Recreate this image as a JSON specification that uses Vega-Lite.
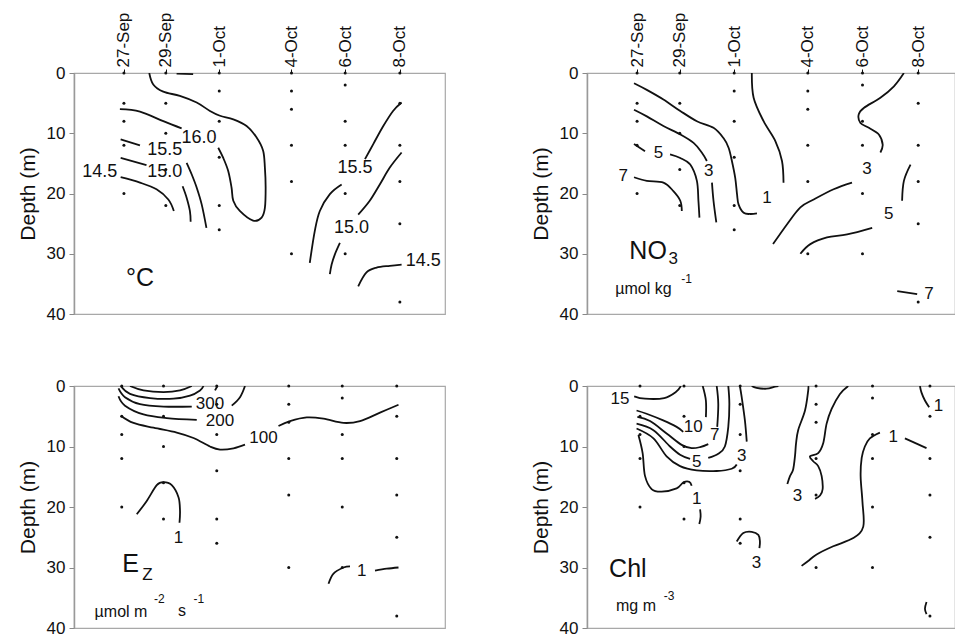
{
"$schema":"https://vega.github.io/schema/vega-lite/v6.json",
"background":"white",
"padding":{"left":16,"top":11,"right":0,"bottom":0},
"bounds":"flush",
"columns":2,
"spacing":{"row":72,"column":142},
"config":{"view":{"stroke":"#a8a8a8","strokeWidth":1.2},"font":"Liberation Sans","text":{"font":"Liberation Sans","color":"#111"}},
"datasets":{
"dots":[
{"d":0,"z":0},{"d":0,"z":5},{"d":0,"z":8},{"d":0,"z":12},{"d":0,"z":20},
{"d":1.67,"z":0},{"d":1.67,"z":5},{"d":1.67,"z":10},{"d":1.67,"z":16},{"d":1.67,"z":22},
{"d":3.8,"z":0},{"d":3.8,"z":3},{"d":3.8,"z":8},{"d":3.8,"z":14},{"d":3.8,"z":22},{"d":3.8,"z":26},
{"d":6.68,"z":0},{"d":6.68,"z":3},{"d":6.68,"z":6},{"d":6.68,"z":12},{"d":6.68,"z":18},{"d":6.68,"z":30},
{"d":8.82,"z":0},{"d":8.82,"z":2},{"d":8.82,"z":8},{"d":8.82,"z":12},{"d":8.82,"z":20},{"d":8.82,"z":30},
{"d":11,"z":0},{"d":11,"z":5},{"d":11,"z":12},{"d":11,"z":18},{"d":11,"z":25},{"d":11,"z":38}
],
"lines":[
{"p":1,"s":"a","i":0,"d":-0.16,"z":6.0},{"p":1,"s":"a","i":1,"d":0.64,"z":6.4},{"p":1,"s":"a","i":2,"d":1.57,"z":8.0},{"p":1,"s":"a","i":3,"d":2.30,"z":9.2},
{"p":1,"s":"b","i":0,"d":3.76,"z":12.4},{"p":1,"s":"b","i":1,"d":3.96,"z":14.1},{"p":1,"s":"b","i":2,"d":4.16,"z":16.3},{"p":1,"s":"b","i":3,"d":4.29,"z":19.0},{"p":1,"s":"b","i":4,"d":4.36,"z":21.2},{"p":1,"s":"b","i":5,"d":4.62,"z":22.9},{"p":1,"s":"b","i":6,"d":5.15,"z":24.5},{"p":1,"s":"b","i":7,"d":5.49,"z":24.0},{"p":1,"s":"b","i":8,"d":5.62,"z":22.4},{"p":1,"s":"b","i":9,"d":5.65,"z":19.0},{"p":1,"s":"b","i":10,"d":5.62,"z":15.7},{"p":1,"s":"b","i":11,"d":5.55,"z":12.9},{"p":1,"s":"b","i":12,"d":5.29,"z":10.7},{"p":1,"s":"b","i":13,"d":4.89,"z":8.8},{"p":1,"s":"b","i":14,"d":4.36,"z":7.7},{"p":1,"s":"b","i":15,"d":3.83,"z":7.1},{"p":1,"s":"b","i":16,"d":3.43,"z":6.3},{"p":1,"s":"b","i":17,"d":2.90,"z":4.9},{"p":1,"s":"b","i":18,"d":2.23,"z":3.8},{"p":1,"s":"b","i":19,"d":1.57,"z":3.1},{"p":1,"s":"b","i":20,"d":1.17,"z":1.9},{"p":1,"s":"b","i":21,"d":1.01,"z":0},
{"p":1,"s":"c","i":0,"d":2.10,"z":0.1},{"p":1,"s":"c","i":1,"d":2.76,"z":0.2},
{"p":1,"s":"d","i":0,"d":-0.13,"z":11.0},{"p":1,"s":"d","i":1,"d":0.64,"z":12.0},
{"p":1,"s":"e","i":0,"d":2.50,"z":14.9},{"p":1,"s":"e","i":1,"d":2.70,"z":16.8},{"p":1,"s":"e","i":2,"d":2.90,"z":19.0},{"p":1,"s":"e","i":3,"d":3.10,"z":21.8},{"p":1,"s":"e","i":4,"d":3.29,"z":25.7},
{"p":1,"s":"f","i":0,"d":-0.13,"z":14.1},{"p":1,"s":"f","i":1,"d":0.90,"z":15.3},
{"p":1,"s":"g","i":0,"d":2.34,"z":18.8},{"p":1,"s":"g","i":1,"d":2.50,"z":20.7},{"p":1,"s":"g","i":2,"d":2.63,"z":22.9},{"p":1,"s":"g","i":3,"d":2.66,"z":24.7},
{"p":1,"s":"h","i":0,"d":-0.13,"z":17.3},{"p":1,"s":"h","i":1,"d":0.64,"z":18.2},{"p":1,"s":"h","i":2,"d":1.30,"z":19.3},{"p":1,"s":"h","i":3,"d":1.77,"z":21.0},{"p":1,"s":"h","i":4,"d":1.99,"z":22.9},
{"p":1,"s":"i","i":0,"d":11.07,"z":4.9},{"p":1,"s":"i","i":1,"d":10.73,"z":6.3},{"p":1,"s":"i","i":2,"d":10.34,"z":8.8},{"p":1,"s":"i","i":3,"d":9.94,"z":11.8},{"p":1,"s":"i","i":4,"d":9.61,"z":14.3},
{"p":1,"s":"j","i":0,"d":8.68,"z":18.5},{"p":1,"s":"j","i":1,"d":8.21,"z":20.1},{"p":1,"s":"j","i":2,"d":7.81,"z":22.9},{"p":1,"s":"j","i":3,"d":7.61,"z":26.2},{"p":1,"s":"j","i":4,"d":7.41,"z":31.5},
{"p":1,"s":"k","i":0,"d":11.07,"z":13.2},{"p":1,"s":"k","i":1,"d":10.60,"z":15.7},{"p":1,"s":"k","i":2,"d":10.20,"z":18.5},{"p":1,"s":"k","i":3,"d":9.80,"z":21.2},{"p":1,"s":"k","i":4,"d":9.34,"z":23.5},
{"p":1,"s":"l","i":0,"d":8.61,"z":28.2},{"p":1,"s":"l","i":1,"d":8.41,"z":30.1},{"p":1,"s":"l","i":2,"d":8.28,"z":31.8},{"p":1,"s":"l","i":3,"d":8.21,"z":33.4},
{"p":1,"s":"m","i":0,"d":11.07,"z":31.8},{"p":1,"s":"m","i":1,"d":10.60,"z":32.0},{"p":1,"s":"m","i":2,"d":10.07,"z":32.3},{"p":1,"s":"m","i":3,"d":9.67,"z":33.1},{"p":1,"s":"m","i":4,"d":9.34,"z":35.4},

{"p":2,"s":"a","i":0,"d":-0.12,"z":17.3},{"p":2,"s":"a","i":1,"d":0.38,"z":17.9},{"p":2,"s":"a","i":2,"d":1.03,"z":18.2},{"p":2,"s":"a","i":3,"d":1.42,"z":19.6},{"p":2,"s":"a","i":4,"d":1.69,"z":21.2},{"p":2,"s":"a","i":5,"d":1.75,"z":22.9},
{"p":2,"s":"b","i":0,"d":-0.12,"z":11.8},{"p":2,"s":"b","i":1,"d":0.31,"z":13.0},
{"p":2,"s":"c","i":0,"d":1.29,"z":13.5},{"p":2,"s":"c","i":1,"d":1.69,"z":14.1},{"p":2,"s":"c","i":2,"d":2.08,"z":15.2},{"p":2,"s":"c","i":3,"d":2.34,"z":17.9},{"p":2,"s":"c","i":4,"d":2.40,"z":21.2},{"p":2,"s":"c","i":5,"d":2.44,"z":24.0},
{"p":2,"s":"d","i":0,"d":-0.12,"z":6.1},{"p":2,"s":"d","i":1,"d":0.38,"z":7.2},{"p":2,"s":"d","i":2,"d":1.03,"z":8.8},{"p":2,"s":"d","i":3,"d":1.69,"z":10.2},{"p":2,"s":"d","i":4,"d":2.21,"z":11.6},{"p":2,"s":"d","i":5,"d":2.53,"z":13.2},{"p":2,"s":"d","i":6,"d":2.73,"z":14.6},
{"p":2,"s":"e","i":0,"d":2.93,"z":18.2},{"p":2,"s":"e","i":1,"d":2.99,"z":21.2},{"p":2,"s":"e","i":2,"d":3.10,"z":24.8},
{"p":2,"s":"f","i":0,"d":-0.12,"z":1.7},{"p":2,"s":"f","i":1,"d":0.38,"z":2.8},{"p":2,"s":"f","i":2,"d":1.03,"z":4.4},{"p":2,"s":"f","i":3,"d":1.69,"z":6.3},{"p":2,"s":"f","i":4,"d":2.34,"z":8.0},{"p":2,"s":"f","i":5,"d":2.99,"z":9.1},{"p":2,"s":"f","i":6,"d":3.38,"z":10.8},{"p":2,"s":"f","i":7,"d":3.58,"z":12.4},{"p":2,"s":"f","i":8,"d":3.71,"z":14.6},{"p":2,"s":"f","i":9,"d":3.84,"z":17.4},{"p":2,"s":"f","i":10,"d":3.91,"z":20.1},{"p":2,"s":"f","i":11,"d":3.97,"z":21.8},{"p":2,"s":"f","i":12,"d":4.17,"z":23.2},{"p":2,"s":"f","i":13,"d":4.43,"z":23.4},{"p":2,"s":"f","i":14,"d":4.69,"z":23.3},
{"p":2,"s":"g","i":0,"d":4.49,"z":0},{"p":2,"s":"g","i":1,"d":4.56,"z":4.1},{"p":2,"s":"g","i":2,"d":4.95,"z":8.0},{"p":2,"s":"g","i":3,"d":5.41,"z":11.3},{"p":2,"s":"g","i":4,"d":5.67,"z":14.6},{"p":2,"s":"g","i":5,"d":5.73,"z":18.2},
{"p":2,"s":"h","i":0,"d":8.41,"z":18.2},{"p":2,"s":"h","i":1,"d":7.69,"z":19.3},{"p":2,"s":"h","i":2,"d":6.91,"z":21.0},{"p":2,"s":"h","i":3,"d":6.39,"z":22.3},{"p":2,"s":"h","i":4,"d":5.87,"z":25.1},{"p":2,"s":"h","i":5,"d":5.32,"z":28.4},
{"p":2,"s":"i","i":0,"d":10.44,"z":0},{"p":2,"s":"i","i":1,"d":10.05,"z":2.2},{"p":2,"s":"i","i":2,"d":9.52,"z":4.1},{"p":2,"s":"i","i":3,"d":8.87,"z":5.8},{"p":2,"s":"i","i":4,"d":8.67,"z":6.9},{"p":2,"s":"i","i":5,"d":8.74,"z":8.3},{"p":2,"s":"i","i":6,"d":9.07,"z":9.1},{"p":2,"s":"i","i":7,"d":9.46,"z":10.2},{"p":2,"s":"i","i":8,"d":9.61,"z":11.9},{"p":2,"s":"i","i":9,"d":9.52,"z":13.2},
{"p":2,"s":"j","i":0,"d":9.20,"z":25.7},{"p":2,"s":"j","i":1,"d":8.22,"z":26.8},{"p":2,"s":"j","i":2,"d":7.43,"z":27.3},{"p":2,"s":"j","i":3,"d":6.78,"z":28.4},{"p":2,"s":"j","i":4,"d":6.39,"z":30.0},
{"p":2,"s":"k","i":0,"d":10.70,"z":15.2},{"p":2,"s":"k","i":1,"d":10.44,"z":17.9},{"p":2,"s":"k","i":2,"d":10.37,"z":21.2},
{"p":2,"s":"l","i":0,"d":10.18,"z":36.2},{"p":2,"s":"l","i":1,"d":10.96,"z":36.7},

{"p":3,"s":"a","i":0,"d":0.33,"z":0},{"p":3,"s":"a","i":1,"d":0.87,"z":0.73},{"p":3,"s":"a","i":2,"d":1.67,"z":1.0},{"p":3,"s":"a","i":3,"d":2.33,"z":0.73},{"p":3,"s":"a","i":4,"d":2.8,"z":0},
{"p":3,"s":"b","i":0,"d":-0.04,"z":0},{"p":3,"s":"b","i":1,"d":0.33,"z":1.3},{"p":3,"s":"b","i":2,"d":1.13,"z":2.0},{"p":3,"s":"b","i":3,"d":2.07,"z":2.1},{"p":3,"s":"b","i":4,"d":2.73,"z":1.6},{"p":3,"s":"b","i":5,"d":3.13,"z":0.73},{"p":3,"s":"b","i":6,"d":3.27,"z":0},
{"p":3,"s":"c","i":0,"d":-0.13,"z":0.4},{"p":3,"s":"c","i":1,"d":0.13,"z":1.85},{"p":3,"s":"c","i":2,"d":0.73,"z":3.0},{"p":3,"s":"c","i":3,"d":1.67,"z":3.4},{"p":3,"s":"c","i":4,"d":2.8,"z":3.4},
{"p":3,"s":"d","i":0,"d":4.4,"z":3.25},{"p":3,"s":"d","i":1,"d":4.73,"z":1.85},{"p":3,"s":"d","i":2,"d":4.93,"z":0},
{"p":3,"s":"e","i":0,"d":-0.13,"z":1.7},{"p":3,"s":"e","i":1,"d":0.13,"z":3.25},{"p":3,"s":"e","i":2,"d":0.87,"z":4.7},{"p":3,"s":"e","i":3,"d":1.8,"z":5.3},{"p":3,"s":"e","i":4,"d":3.0,"z":5.6},
{"p":3,"s":"f","i":0,"d":-0.04,"z":4.9},{"p":3,"s":"f","i":1,"d":0.47,"z":6.1},{"p":3,"s":"f","i":2,"d":1.27,"z":6.9},{"p":3,"s":"f","i":3,"d":2.2,"z":7.7},{"p":3,"s":"f","i":4,"d":2.87,"z":8.6},{"p":3,"s":"f","i":5,"d":3.53,"z":10.0},{"p":3,"s":"f","i":6,"d":3.93,"z":10.5},{"p":3,"s":"f","i":7,"d":4.47,"z":10.3},{"p":3,"s":"f","i":8,"d":4.93,"z":9.7},
{"p":3,"s":"g","i":0,"d":6.27,"z":6.6},{"p":3,"s":"g","i":1,"d":6.73,"z":5.8},{"p":3,"s":"g","i":2,"d":7.4,"z":5.2},{"p":3,"s":"g","i":3,"d":8.07,"z":5.4},{"p":3,"s":"g","i":4,"d":8.87,"z":6.1},{"p":3,"s":"g","i":5,"d":9.53,"z":5.8},{"p":3,"s":"g","i":6,"d":10.33,"z":4.4},{"p":3,"s":"g","i":7,"d":11.07,"z":3.1},
{"p":3,"s":"h","i":0,"d":3.73,"z":0.73},{"p":3,"s":"h","i":1,"d":3.83,"z":0},
{"p":3,"s":"i","i":0,"d":0.6,"z":21.2},{"p":3,"s":"i","i":1,"d":1.0,"z":19.0},{"p":3,"s":"i","i":2,"d":1.4,"z":16.4},{"p":3,"s":"i","i":3,"d":1.67,"z":15.9},{"p":3,"s":"i","i":4,"d":2.0,"z":16.4},{"p":3,"s":"i","i":5,"d":2.27,"z":18.4},{"p":3,"s":"i","i":6,"d":2.33,"z":20.6},{"p":3,"s":"i","i":7,"d":2.31,"z":22.6},
{"p":3,"s":"j","i":0,"d":8.27,"z":32.7},{"p":3,"s":"j","i":1,"d":8.47,"z":31.0},{"p":3,"s":"j","i":2,"d":8.87,"z":30.0},{"p":3,"s":"j","i":3,"d":9.13,"z":29.8},
{"p":3,"s":"k","i":0,"d":10.13,"z":30.5},{"p":3,"s":"k","i":1,"d":10.6,"z":30.2},{"p":3,"s":"k","i":2,"d":11.07,"z":30.0},

{"p":4,"s":"a","i":0,"d":-0.22,"z":1.7},{"p":4,"s":"a","i":1,"d":0.19,"z":2.1},{"p":4,"s":"a","i":2,"d":0.92,"z":2.0},{"p":4,"s":"a","i":3,"d":1.36,"z":1.0},{"p":4,"s":"a","i":4,"d":1.55,"z":0},
{"p":4,"s":"b","i":0,"d":-0.13,"z":4.05},{"p":4,"s":"b","i":1,"d":0.25,"z":4.59},{"p":4,"s":"b","i":2,"d":0.88,"z":5.68},{"p":4,"s":"b","i":3,"d":1.39,"z":6.76},{"p":4,"s":"b","i":4,"d":1.64,"z":7.57},
{"p":4,"s":"c","i":0,"d":2.50,"z":5.14},{"p":4,"s":"c","i":1,"d":2.50,"z":2.4},{"p":4,"s":"c","i":2,"d":2.38,"z":0},
{"p":4,"s":"d","i":0,"d":-0.1,"z":5.1},{"p":4,"s":"d","i":1,"d":0.38,"z":5.8},{"p":4,"s":"d","i":2,"d":1.01,"z":7.84},{"p":4,"s":"d","i":3,"d":1.58,"z":9.73},{"p":4,"s":"d","i":4,"d":1.96,"z":10.27},{"p":4,"s":"d","i":5,"d":2.28,"z":10.1},{"p":4,"s":"d","i":6,"d":2.59,"z":9.6},
{"p":4,"s":"e","i":0,"d":2.93,"z":6.76},{"p":4,"s":"e","i":1,"d":2.97,"z":2.97},{"p":4,"s":"e","i":2,"d":2.91,"z":0},
{"p":4,"s":"f","i":0,"d":-0.13,"z":6.22},{"p":4,"s":"f","i":1,"d":0.51,"z":7.3},{"p":4,"s":"f","i":2,"d":1.14,"z":10.0},{"p":4,"s":"f","i":3,"d":1.52,"z":11.35},{"p":4,"s":"f","i":4,"d":1.90,"z":12.05},
{"p":4,"s":"g","i":0,"d":2.59,"z":11.89},{"p":4,"s":"g","i":1,"d":2.97,"z":11.2},{"p":4,"s":"g","i":2,"d":3.22,"z":10.0},{"p":4,"s":"g","i":3,"d":3.35,"z":6.76},{"p":4,"s":"g","i":4,"d":3.39,"z":2.97},{"p":4,"s":"g","i":5,"d":3.35,"z":0},
{"p":4,"s":"h","i":0,"d":-0.13,"z":7.03},{"p":4,"s":"h","i":1,"d":0.51,"z":8.65},{"p":4,"s":"h","i":2,"d":1.01,"z":11.62},{"p":4,"s":"h","i":3,"d":1.52,"z":13.24},{"p":4,"s":"h","i":4,"d":2.15,"z":13.95},{"p":4,"s":"h","i":5,"d":2.91,"z":14.05},{"p":4,"s":"h","i":6,"d":3.48,"z":13.68},{"p":4,"s":"h","i":7,"d":3.67,"z":12.97},
{"p":4,"s":"i","i":0,"d":4.05,"z":9.19},{"p":4,"s":"i","i":1,"d":3.98,"z":5.68},{"p":4,"s":"i","i":2,"d":3.86,"z":1.89},{"p":4,"s":"i","i":3,"d":3.79,"z":0},
{"p":4,"s":"j","i":0,"d":-0.06,"z":8.11},{"p":4,"s":"j","i":1,"d":0.10,"z":11.1},{"p":4,"s":"j","i":2,"d":0.19,"z":14.86},{"p":4,"s":"j","i":3,"d":0.44,"z":17.03},{"p":4,"s":"j","i":4,"d":0.82,"z":17.46},{"p":4,"s":"j","i":5,"d":1.39,"z":16.92},{"p":4,"s":"j","i":6,"d":1.64,"z":15.95},{"p":4,"s":"j","i":7,"d":1.87,"z":15.84},{"p":4,"s":"j","i":8,"d":1.96,"z":16.49},
{"p":4,"s":"k","i":0,"d":2.28,"z":20.4},{"p":4,"s":"k","i":1,"d":2.30,"z":21.6},{"p":4,"s":"k","i":2,"d":2.25,"z":22.8},
{"p":4,"s":"l","i":0,"d":4.24,"z":0},{"p":4,"s":"l","i":1,"d":4.42,"z":0.3},{"p":4,"s":"l","i":2,"d":4.80,"z":0.45},{"p":4,"s":"l","i":3,"d":5.12,"z":0.1},{"p":4,"s":"l","i":4,"d":5.25,"z":0},
{"p":4,"s":"m","i":0,"d":3.67,"z":25.7},{"p":4,"s":"m","i":1,"d":3.92,"z":24.3},{"p":4,"s":"m","i":2,"d":4.24,"z":24.1},{"p":4,"s":"m","i":3,"d":4.49,"z":24.6},{"p":4,"s":"m","i":4,"d":4.55,"z":25.7},{"p":4,"s":"m","i":5,"d":4.53,"z":26.8},
{"p":4,"s":"n","i":0,"d":6.38,"z":0},{"p":4,"s":"n","i":1,"d":6.38,"z":0.8},{"p":4,"s":"n","i":2,"d":6.26,"z":4.05},{"p":4,"s":"n","i":3,"d":6.0,"z":7.3},{"p":4,"s":"n","i":4,"d":5.92,"z":9.5},{"p":4,"s":"n","i":5,"d":5.88,"z":11.6},{"p":4,"s":"n","i":6,"d":5.81,"z":13.8},{"p":4,"s":"n","i":7,"d":5.69,"z":14.9},{"p":4,"s":"n","i":8,"d":5.59,"z":16.2},
{"p":4,"s":"o","i":0,"d":7.90,"z":0},{"p":4,"s":"o","i":1,"d":7.58,"z":1.35},{"p":4,"s":"o","i":2,"d":7.27,"z":3.78},{"p":4,"s":"o","i":3,"d":7.08,"z":6.22},{"p":4,"s":"o","i":4,"d":6.95,"z":9.46},{"p":4,"s":"o","i":5,"d":6.76,"z":11.08},{"p":4,"s":"o","i":6,"d":6.45,"z":11.62},{"p":4,"s":"o","i":7,"d":6.57,"z":12.43},{"p":4,"s":"o","i":8,"d":6.76,"z":13.24},{"p":4,"s":"o","i":9,"d":6.89,"z":14.86},{"p":4,"s":"o","i":10,"d":6.93,"z":17.03},{"p":4,"s":"o","i":11,"d":6.83,"z":18.1},{"p":4,"s":"o","i":12,"d":6.64,"z":18.65},
{"p":4,"s":"p","i":0,"d":10.62,"z":0},{"p":4,"s":"p","i":1,"d":10.68,"z":1.1},{"p":4,"s":"p","i":2,"d":10.81,"z":2.4},{"p":4,"s":"p","i":3,"d":10.97,"z":3.5},
{"p":4,"s":"q","i":0,"d":9.10,"z":7.7},{"p":4,"s":"q","i":1,"d":8.72,"z":8.65},{"p":4,"s":"q","i":2,"d":8.53,"z":10.0},{"p":4,"s":"q","i":3,"d":8.41,"z":11.9},{"p":4,"s":"q","i":4,"d":8.37,"z":14.9},{"p":4,"s":"q","i":5,"d":8.44,"z":19.2},{"p":4,"s":"q","i":6,"d":8.47,"z":23.24},{"p":4,"s":"q","i":7,"d":8.09,"z":25.14},{"p":4,"s":"q","i":8,"d":7.33,"z":26.49},{"p":4,"s":"q","i":9,"d":6.70,"z":27.84},{"p":4,"s":"q","i":10,"d":6.38,"z":28.92},{"p":4,"s":"q","i":11,"d":6.13,"z":29.73},
{"p":4,"s":"r","i":0,"d":10.05,"z":8.65},{"p":4,"s":"r","i":1,"d":10.87,"z":10.27},
{"p":4,"s":"s","i":0,"d":10.87,"z":35.7},{"p":4,"s":"s","i":1,"d":10.81,"z":36.8},{"p":4,"s":"s","i":2,"d":10.87,"z":37.7}
],
"labels":[
{"p":1,"k":"c","t":"14.5","d":-0.96,"z":16.5},{"p":1,"k":"c","t":"15.0","d":1.63,"z":16.5},{"p":1,"k":"c","t":"15.5","d":1.63,"z":12.7},{"p":1,"k":"c","t":"16.0","d":2.99,"z":10.8},{"p":1,"k":"c","t":"15.5","d":9.21,"z":15.7},{"p":1,"k":"c","t":"15.0","d":9.07,"z":25.7},{"p":1,"k":"c","t":"14.5","d":11.93,"z":31.2},
{"p":1,"k":"b","t":"°C","d":0.64,"z":34.0},
{"p":2,"k":"c","t":"7","d":-0.54,"z":17.1},{"p":2,"k":"c","t":"5","d":0.84,"z":13.2},{"p":2,"k":"c","t":"3","d":2.80,"z":16.3},{"p":2,"k":"c","t":"1","d":5.08,"z":20.7},{"p":2,"k":"c","t":"3","d":9.00,"z":16.0},{"p":2,"k":"c","t":"5","d":9.85,"z":23.4},{"p":2,"k":"c","t":"7","d":11.42,"z":36.7},
{"p":2,"k":"b","t":"NO","d":0.43,"z":29.5},{"p":2,"k":"s","t":"3","d":1.41,"z":30.9},{"p":2,"k":"u","t":"µmol kg","d":0.25,"z":35.8},{"p":2,"k":"e","t":"-1","d":1.94,"z":34.2},
{"p":3,"k":"c","t":"300","d":3.53,"z":2.9},{"p":3,"k":"c","t":"200","d":3.93,"z":5.8},{"p":3,"k":"c","t":"100","d":5.67,"z":8.6},{"p":3,"k":"c","t":"1","d":2.27,"z":25.1},{"p":3,"k":"c","t":"1","d":9.6,"z":30.5},
{"p":3,"k":"b","t":"E","d":0.35,"z":29.5},{"p":3,"k":"s","t":"Z","d":1.03,"z":31.2},{"p":3,"k":"u","t":"µmol m","d":-0.03,"z":37.4},{"p":3,"k":"e","t":"-2","d":1.5,"z":35.2},{"p":3,"k":"u","t":"s","d":2.41,"z":37.2},{"p":3,"k":"e","t":"-1","d":3.08,"z":35.2},
{"p":4,"k":"c","t":"15","d":-0.76,"z":2.2},{"p":4,"k":"c","t":"10","d":2.02,"z":6.76},{"p":4,"k":"c","t":"7","d":2.84,"z":8.1},{"p":4,"k":"c","t":"5","d":2.15,"z":12.6},{"p":4,"k":"c","t":"3","d":3.86,"z":11.62},{"p":4,"k":"c","t":"1","d":2.15,"z":18.65},{"p":4,"k":"c","t":"3","d":4.42,"z":29.2},{"p":4,"k":"c","t":"3","d":5.97,"z":18.1},{"p":4,"k":"c","t":"1","d":9.61,"z":8.38},{"p":4,"k":"c","t":"1","d":11.32,"z":3.24},
{"p":4,"k":"b","t":"Chl","d":-0.46,"z":30.2},{"p":4,"k":"u","t":"mg m","d":-0.15,"z":36.3},{"p":4,"k":"e","t":"-3","d":1.1,"z":34.7}
]
},
"concat":[
{"width":371,"height":241,
"encoding":{
"x":{"field":"d","type":"quantitative","scale":{"domain":[-1.99,12.8],"nice":false,"zero":false},"axis":{"orient":"top","values":[0,1.67,3.8,6.68,8.82,11],"labelExpr":"datum.value<1?'27-Sep':datum.value<2?'29-Sep':datum.value<5?'1-Oct':datum.value<7?'4-Oct':datum.value<10?'6-Oct':'8-Oct'","labelAngle":270,"labelFontSize":17,"labelPadding":2,"labelColor":"#111","labelOverlap":false,"labelFlush":false,"tickSize":4,"tickColor":"#111","domain":false,"grid":false,"title":null}},
"y":{"field":"z","type":"quantitative","scale":{"domain":[0,40],"reverse":true,"nice":false,"zero":false},"axis":{"values":[0,10,20,30,40],"title":"Depth (m)","titleFontSize":21,"titleFontWeight":"normal","titleColor":"#111","titlePadding":8,"labelFontSize":17,"labelColor":"#111","labelPadding":4,"labelFlush":false,"tickSize":5,"tickColor":"#888","domainColor":"#999","domainWidth":1.5,"grid":false}}
},
"layer":[
{"data":{"name":"lines"},"transform":[{"filter":"datum.p==1"}],"mark":{"type":"line","interpolate":"cardinal","stroke":"#111","strokeWidth":1.8,"clip":true},"encoding":{"detail":{"field":"s"},"order":{"field":"i"}}},
{"data":{"name":"dots"},"mark":{"type":"circle","size":9,"color":"#111","opacity":1}},
{"data":{"name":"labels"},"transform":[{"filter":"datum.p==1 && datum.k=='c'"}],"mark":{"type":"text","fontSize":18,"align":"center","baseline":"middle"},"encoding":{"text":{"field":"t"}}},
{"data":{"name":"labels"},"transform":[{"filter":"datum.p==1 && datum.k=='b'"}],"mark":{"type":"text","fontSize":25,"align":"center","baseline":"middle"},"encoding":{"text":{"field":"t"}}}
]},
{"width":368,"height":241,
"encoding":{
"x":{"field":"d","type":"quantitative","scale":{"domain":[-1.96,12.44],"nice":false,"zero":false},"axis":{"orient":"top","values":[0,1.67,3.8,6.68,8.82,11],"labelExpr":"datum.value<1?'27-Sep':datum.value<2?'29-Sep':datum.value<5?'1-Oct':datum.value<7?'4-Oct':datum.value<10?'6-Oct':'8-Oct'","labelAngle":270,"labelFontSize":17,"labelPadding":2,"labelColor":"#111","labelOverlap":false,"labelFlush":false,"tickSize":4,"tickColor":"#111","domain":false,"grid":false,"title":null}},
"y":{"field":"z","type":"quantitative","scale":{"domain":[0,40],"reverse":true,"nice":false,"zero":false},"axis":{"values":[0,10,20,30,40],"title":"Depth (m)","titleFontSize":21,"titleFontWeight":"normal","titleColor":"#111","titlePadding":8,"labelFontSize":17,"labelColor":"#111","labelPadding":4,"labelFlush":false,"tickSize":5,"tickColor":"#888","domainColor":"#999","domainWidth":1.5,"grid":false}}
},
"layer":[
{"data":{"name":"lines"},"transform":[{"filter":"datum.p==2"}],"mark":{"type":"line","interpolate":"cardinal","stroke":"#111","strokeWidth":1.8,"clip":true},"encoding":{"detail":{"field":"s"},"order":{"field":"i"}}},
{"data":{"name":"dots"},"mark":{"type":"circle","size":9,"color":"#111","opacity":1}},
{"data":{"name":"labels"},"transform":[{"filter":"datum.p==2 && datum.k=='c'"}],"mark":{"type":"text","fontSize":17,"align":"center","baseline":"middle"},"encoding":{"text":{"field":"t"}}},
{"data":{"name":"labels"},"transform":[{"filter":"datum.p==2 && datum.k=='b'"}],"mark":{"type":"text","fontSize":25,"align":"center","baseline":"middle"},"encoding":{"text":{"field":"t"}}},
{"data":{"name":"labels"},"transform":[{"filter":"datum.p==2 && datum.k=='s'"}],"mark":{"type":"text","fontSize":17,"align":"center","baseline":"middle"},"encoding":{"text":{"field":"t"}}},
{"data":{"name":"labels"},"transform":[{"filter":"datum.p==2 && datum.k=='u'"}],"mark":{"type":"text","fontSize":16,"letterSpacing":2,"align":"center","baseline":"middle"},"encoding":{"text":{"field":"t"}}},
{"data":{"name":"labels"},"transform":[{"filter":"datum.p==2 && datum.k=='e'"}],"mark":{"type":"text","fontSize":12,"letterSpacing":1,"align":"center","baseline":"middle"},"encoding":{"text":{"field":"t"}}}
]},
{"width":371,"height":242,
"encoding":{
"x":{"field":"d","type":"quantitative","scale":{"domain":[-1.91,12.93],"nice":false,"zero":false},"axis":null},
"y":{"field":"z","type":"quantitative","scale":{"domain":[0,40],"reverse":true,"nice":false,"zero":false},"axis":{"values":[0,10,20,30,40],"title":"Depth (m)","titleFontSize":21,"titleFontWeight":"normal","titleColor":"#111","titlePadding":8,"labelFontSize":17,"labelColor":"#111","labelPadding":4,"labelFlush":false,"tickSize":5,"tickColor":"#888","domainColor":"#999","domainWidth":1.5,"grid":false}}
},
"layer":[
{"data":{"name":"lines"},"transform":[{"filter":"datum.p==3"}],"mark":{"type":"line","interpolate":"cardinal","stroke":"#111","strokeWidth":1.8,"clip":true},"encoding":{"detail":{"field":"s"},"order":{"field":"i"}}},
{"data":{"name":"dots"},"mark":{"type":"circle","size":9,"color":"#111","opacity":1}},
{"data":{"name":"labels"},"transform":[{"filter":"datum.p==3 && datum.k=='c'"}],"mark":{"type":"text","fontSize":17,"align":"center","baseline":"middle"},"encoding":{"text":{"field":"t"}}},
{"data":{"name":"labels"},"transform":[{"filter":"datum.p==3 && datum.k=='b'"}],"mark":{"type":"text","fontSize":25,"align":"center","baseline":"middle"},"encoding":{"text":{"field":"t"}}},
{"data":{"name":"labels"},"transform":[{"filter":"datum.p==3 && datum.k=='s'"}],"mark":{"type":"text","fontSize":17,"align":"center","baseline":"middle"},"encoding":{"text":{"field":"t"}}},
{"data":{"name":"labels"},"transform":[{"filter":"datum.p==3 && datum.k=='u'"}],"mark":{"type":"text","fontSize":16,"letterSpacing":2,"align":"center","baseline":"middle"},"encoding":{"text":{"field":"t"}}},
{"data":{"name":"labels"},"transform":[{"filter":"datum.p==3 && datum.k=='e'"}],"mark":{"type":"text","fontSize":12,"letterSpacing":1,"align":"center","baseline":"middle"},"encoding":{"text":{"field":"t"}}}
]},
{"width":368,"height":242,
"encoding":{
"x":{"field":"d","type":"quantitative","scale":{"domain":[-2.01,11.95],"nice":false,"zero":false},"axis":null},
"y":{"field":"z","type":"quantitative","scale":{"domain":[0,40],"reverse":true,"nice":false,"zero":false},"axis":{"values":[0,10,20,30,40],"title":"Depth (m)","titleFontSize":21,"titleFontWeight":"normal","titleColor":"#111","titlePadding":8,"labelFontSize":17,"labelColor":"#111","labelPadding":4,"labelFlush":false,"tickSize":5,"tickColor":"#888","domainColor":"#999","domainWidth":1.5,"grid":false}}
},
"layer":[
{"data":{"name":"lines"},"transform":[{"filter":"datum.p==4"}],"mark":{"type":"line","interpolate":"cardinal","stroke":"#111","strokeWidth":1.8,"clip":true},"encoding":{"detail":{"field":"s"},"order":{"field":"i"}}},
{"data":{"name":"dots"},"mark":{"type":"circle","size":9,"color":"#111","opacity":1}},
{"data":{"name":"labels"},"transform":[{"filter":"datum.p==4 && datum.k=='c'"}],"mark":{"type":"text","fontSize":17,"align":"center","baseline":"middle"},"encoding":{"text":{"field":"t"}}},
{"data":{"name":"labels"},"transform":[{"filter":"datum.p==4 && datum.k=='b'"}],"mark":{"type":"text","fontSize":25,"align":"center","baseline":"middle"},"encoding":{"text":{"field":"t"}}},
{"data":{"name":"labels"},"transform":[{"filter":"datum.p==4 && datum.k=='u'"}],"mark":{"type":"text","fontSize":16,"letterSpacing":2,"align":"center","baseline":"middle"},"encoding":{"text":{"field":"t"}}},
{"data":{"name":"labels"},"transform":[{"filter":"datum.p==4 && datum.k=='e'"}],"mark":{"type":"text","fontSize":12,"letterSpacing":1,"align":"center","baseline":"middle"},"encoding":{"text":{"field":"t"}}}
]}
]
}
